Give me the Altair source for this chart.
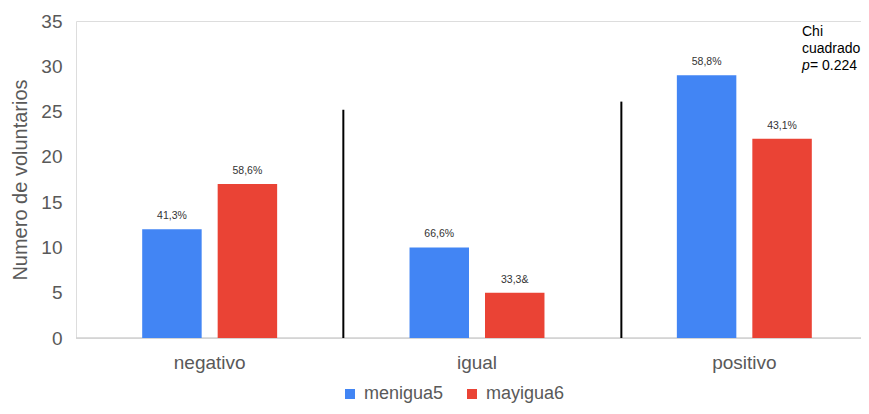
import altair as alt
import pandas as pd

categories = ["negativo", "igual", "positivo"]
series_names = ["menigua5", "mayigua6"]
menigua5 = [12, 10, 29]
mayigua6 = [17, 5, 22]
menigua5_labels = ["41,3%", "66,6%", "58,8%"]
mayigua6_labels = ["58,6%", "33,3&", "43,1%"]
colors = ["#4285F4", "#EA4335"]
y_ticks = [0, 5, 10, 15, 20, 25, 30, 35]
separator_pos = [1.0, 2.04]
separator_top = [25.2, 26.1]
note_lines = ["Chi", "cuadrado"]
note_p = "p"
note_value = "= 0.224"

rows = []
for i, c in enumerate(categories):
    rows.append(dict(cat=c, serie=series_names[0], value=menigua5[i], label=menigua5_labels[i]))
    rows.append(dict(cat=c, serie=series_names[1], value=mayigua6[i], label=mayigua6_labels[i]))
df = pd.DataFrame(rows)

FONT = "Liberation Sans"
GRAY = "#595959"
W, H, XR = 785, 317, 802

xscale = alt.Scale(domain=categories, range=[0, XR], paddingInner=0, paddingOuter=0)
xoff = alt.Scale(domain=series_names, paddingInner=0.212, paddingOuter=0.877)
yscale = alt.Scale(domain=[0, 35], nice=False)

x_axis = alt.Axis(domain=False, ticks=False, labelFontSize=19, labelColor=GRAY,
                  labelPadding=15, labelAngle=0, labelFont=FONT)
y_axis = alt.Axis(values=y_ticks, grid=False, domain=False, ticks=False,
                  labelFontSize=19, labelColor=GRAY, labelPadding=14, labelFont=FONT,
                  title="Numero de voluntarios", titleFontSize=20, titleFontWeight="normal",
                  titleColor=GRAY, titlePadding=10, titleFont=FONT)

bars = alt.Chart(df).mark_bar().encode(
    x=alt.X("cat:N", scale=xscale, title=None, axis=x_axis),
    xOffset=alt.XOffset("serie:N", scale=xoff),
    y=alt.Y("value:Q", scale=yscale, axis=y_axis),
    color=alt.Color("serie:N", scale=alt.Scale(domain=series_names, range=colors),
                    legend=alt.Legend(orient="none", legendX=265, legendY=364,
                                      direction="horizontal", title=None,
                                      symbolType="square", symbolSize=100,
                                      symbolStrokeWidth=0, labelFontSize=18,
                                      labelColor=GRAY, labelOffset=5,
                                      columnPadding=19, padding=0, labelFont=FONT)),
)

texts = alt.Chart(df).mark_text(baseline="bottom", dy=-8, fontSize=10.5,
                                color="#333333", font=FONT).encode(
    x=alt.X("cat:N", scale=xscale, title=None),
    xOffset=alt.XOffset("serie:N", scale=xoff),
    y=alt.Y("value:Q", scale=yscale),
    text="label:N",
)

inner = alt.layer(bars, texts)

sep_df = pd.DataFrame({"pos": separator_pos, "top": separator_top})
rules = alt.Chart(sep_df).mark_rule(color="black", strokeWidth=2).encode(
    x=alt.X("pos:Q", scale=alt.Scale(domain=[0, 3], range=[0, XR]), axis=None),
    y=alt.Y("top:Q", scale=yscale),
    y2=alt.datum(0),
)

baseline = alt.Chart(pd.DataFrame({"b": [0]})).mark_rule(color="#d0d0d0", strokeWidth=1.5).encode(
    x=alt.value(0), x2=alt.value(W), y=alt.value(H)
)

def note(text, x, y, italic=False):
    kw = dict(align="left", baseline="middle", fontSize=14, font=FONT, color="#000000")
    if italic:
        kw["fontStyle"] = "italic"
    return alt.Chart(pd.DataFrame({"t": [text]})).mark_text(**kw).encode(
        x=alt.value(x), y=alt.value(y), text="t:N")

note1 = note(note_lines[0], 726, 11)
note2 = note(note_lines[1], 726, 28)
note3 = note(note_p, 726, 45, italic=True)
note4 = note(note_value, 734, 45)

chart = alt.layer(baseline, inner, rules, note1, note2, note3, note4).resolve_scale(
    x="independent"
).properties(
    width=W, height=H,
    autosize=alt.AutoSizeParams(type="none"),
    padding={"left": 68, "top": 13, "right": 0, "bottom": 67},
).configure_view(stroke=None).configure(font=FONT)

chart.save("out.html", embed_options={"renderer": "svg", "actions": False})
